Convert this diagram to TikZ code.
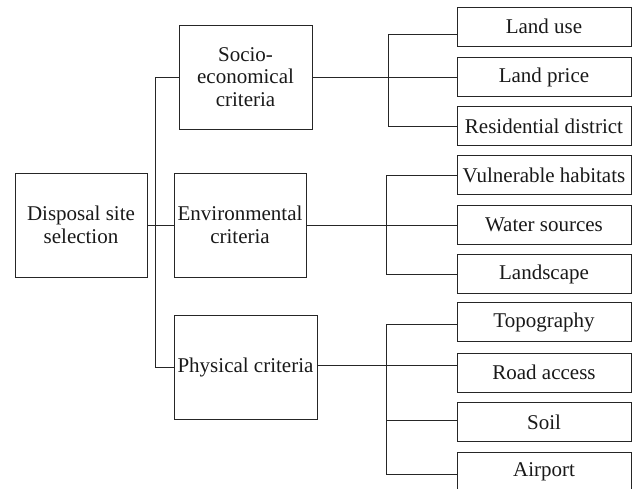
\documentclass[tikz,border=0pt]{standalone}
\usepackage{fontspec}
\setmainfont{Liberation Serif}
\begin{document}
\begin{tikzpicture}[x=1pt,y=-1pt,
  box/.style={draw=black!85,line width=1pt,align=center,inner sep=0pt,
    font=\fontsize{21}{22.5}\selectfont,text=black!90},
  bigbox/.style={box,minimum height=104pt},
  leaf/.style={box,minimum width=174pt,minimum height=39pt},
  conn/.style={draw=black!85,line width=1pt}]
\useasboundingbox (0,0) rectangle (632,488);
\begin{scope}
\clip (0,0) rectangle (632,488);
\node[bigbox,minimum width=132pt] (disp) at (81,225) {Disposal site\\selection};
\node[bigbox,minimum width=133pt] (socio) at (245.5,77) {Socio-\\economical\\criteria};
\node[bigbox,minimum width=132pt] (env) at (240,225) {Environmental\\criteria};
\node[bigbox,minimum width=143pt] (phys) at (245.5,367) {Physical criteria};

\node[leaf] (landuse) at (544,26.5) {Land use};
\node[leaf] (landprice) at (544,77) {Land price};
\node[leaf] (resid) at (544,126) {Residential district};
\node[leaf] (vuln) at (544,175) {Vulnerable habitats};
\node[leaf] (water) at (544,225) {Water sources};
\node[leaf] (landscape) at (544,274) {Landscape};
\node[leaf] (topo) at (544,322) {Topography};
\node[leaf] (road) at (544,372.5) {Road access};
\node[leaf] (soil) at (544,422.3) {Soil};
\node[leaf] (airport) at (544,472) {Airport};

% left trunk
\draw[conn] (disp.east) -- (env.west);
\draw[conn] (socio.west) -- ++(-23,0) |- (phys.west);

% socio group
\draw[conn] (socio.east) -- (landprice.west);
\draw[conn] ([yshift=-8pt]landuse.west) -- ++(-68,0) |- (resid.west);

% environmental group
\draw[conn] (env.east) -- (water.west);
\draw[conn] (vuln.west) -- ++(-70,0) |- (landscape.west);

% physical group
\draw[conn] ([yshift=2pt]phys.east) -- ([yshift=2pt]phys.east -| road.west);
\draw[conn] ([yshift=-2pt]topo.west) -- ++(-70,0) |- ([yshift=-2pt]airport.west);
\draw[conn] ([yshift=1.5pt]soil.west) -- ++(-70,0);
\end{scope}
\end{tikzpicture}
\end{document}
